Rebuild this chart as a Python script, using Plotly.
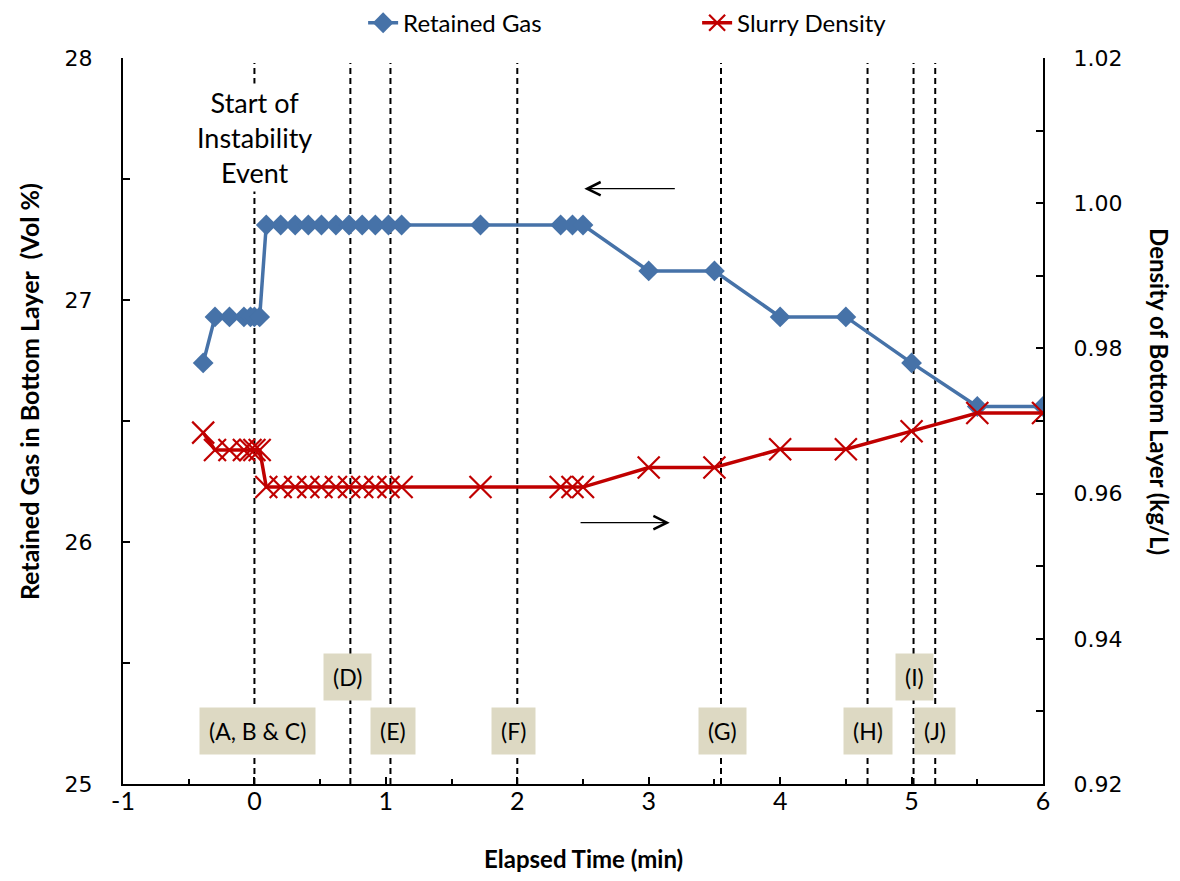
import plotly.graph_objects as go

# ---- data ----
time_min = [-0.39, -0.30, -0.19, -0.08, -0.03, 0.00, 0.04,
            0.09, 0.20, 0.31, 0.41, 0.51, 0.62, 0.72, 0.82, 0.92, 1.02, 1.12,
            1.72, 2.33, 2.42, 2.50, 3.00, 3.50, 4.00, 4.50, 5.00, 5.50, 6.00]
retained_gas = [26.74, 26.93, 26.93, 26.93, 26.93, 26.93, 26.93,
                27.31, 27.31, 27.31, 27.31, 27.31, 27.31, 27.31, 27.31, 27.31, 27.31, 27.31,
                27.31, 27.31, 27.31, 27.31, 27.12, 27.12, 26.93, 26.93, 26.74, 26.56, 26.56]
slurry_density = [0.9684, 0.9660, 0.9660, 0.9660, 0.9660, 0.9660, 0.9660,
                  0.9609, 0.9609, 0.9609, 0.9609, 0.9609, 0.9609, 0.9609, 0.9609, 0.9609, 0.9609, 0.9609,
                  0.9609, 0.9609, 0.9609, 0.9609, 0.9636, 0.9636, 0.9661, 0.9661, 0.9686, 0.9711, 0.9711]

event_times = [0.0, 0.73, 1.035, 2.0, 3.55, 4.665, 5.015, 5.18]
event_labels = ["(A, B & C)", "(D)", "(E)", "(F)", "(G)", "(H)", "(I)", "(J)"]
label_x = [0.023, 0.708, 1.058, 1.97, 3.56, 4.67, 5.02, 5.175]
label_y = [25.22, 25.444, 25.22, 25.22, 25.22, 25.22, 25.444, 25.22]

start_text = "Start of<br>Instability<br>Event"
start_pos = (0.0, 27.67)

# arrows: (tail_x, head_x, y on left axis)
arrow_left = (3.21, 2.51, 27.46)
arrow_right = (2.47, 3.16, 26.08)

x_ticks = [-1, 0, 1, 2, 3, 4, 5, 6]
y1_ticks = [25, 26, 27, 28]
y2_ticks = [0.92, 0.94, 0.96, 0.98, 1.00, 1.02]

BLUE = "#4672A8"
RED = "#C00000"
LABEL_FONT = "Lato, Carlito, Calibri, sans-serif"
NUM_FONT = "DejaVu Sans, Verdana, sans-serif"

fig = go.Figure()

fig.add_trace(go.Scatter(
    x=time_min, y=retained_gas, name="Retained Gas", mode="lines+markers",
    line=dict(color=BLUE, width=3.5),
    marker=dict(symbol="diamond", size=16, color=BLUE),
    yaxis="y",
))
fig.add_trace(go.Scatter(
    x=time_min, y=slurry_density, name="Slurry Density", mode="lines+markers",
    line=dict(color=RED, width=3.5),
    marker=dict(symbol="x-thin", size=22, color=RED, line=dict(color=RED, width=2.2)),
    yaxis="y2",
))

shapes = []
for t in event_times:
    shapes.append(dict(type="line", xref="x", yref="paper", x0=t, x1=t, y0=0, y1=0.993,
                       line=dict(color="black", width=2, dash="6px,4px"), layer="below"))

annotations = []
for lab, lx, ly in zip(event_labels, label_x, label_y):
    annotations.append(dict(x=lx, y=ly, xref="x", yref="y", text=lab, showarrow=False,
                            font=dict(family=LABEL_FONT, size=23, color="black"),
                            bgcolor="#DDD9C3", borderpad=9))

annotations.append(dict(x=start_pos[0], y=start_pos[1], xref="x", yref="y", text=start_text,
                        showarrow=False, bgcolor="white", borderpad=2,
                        font=dict(family=LABEL_FONT, size=27, color="black")))

for tail_x, head_x, ay in (arrow_left, arrow_right):
    annotations.append(dict(x=head_x, y=ay, ax=tail_x, ay=ay, xref="x", yref="y",
                            axref="x", ayref="y", text="", showarrow=True,
                            arrowhead=5, arrowsize=2.2, arrowwidth=1.2, arrowcolor="black"))

# axis titles
annotations.append(dict(x=-0.102, y=0.54, xref="paper", yref="paper", xanchor="center", yanchor="middle",
                        text="<b>Retained Gas in Bottom Layer  (Vol %)</b>", textangle=-90,
                        showarrow=False, font=dict(family=LABEL_FONT, size=25, color="black")))
annotations.append(dict(x=1.126, y=0.54, xref="paper", yref="paper", xanchor="center", yanchor="middle",
                        text="<b>Density of Bottom Layer (kg/L)</b>", textangle=90,
                        showarrow=False, font=dict(family=LABEL_FONT, size=24, color="black")))
annotations.append(dict(x=0.5, y=-0.103, xref="paper", yref="paper", xanchor="center", yanchor="middle",
                        text="<b>Elapsed Time (min)</b>",
                        showarrow=False, font=dict(family=LABEL_FONT, size=24, color="black")))

fig.update_layout(
    width=1180, height=881,
    margin=dict(l=115, r=145, t=50, b=105, autoexpand=False),
    paper_bgcolor="white", plot_bgcolor="white",
    showlegend=True,
    legend=dict(orientation="h", x=0.261, xanchor="left", y=1.079, yanchor="top",
                font=dict(family=LABEL_FONT, size=24, color="black"),
                entrywidth=289, entrywidthmode="pixels", bgcolor="rgba(0,0,0,0)"),
    xaxis=dict(range=[-1, 6], tickvals=x_ticks, ticktext=[str(v) for v in x_ticks],
               showline=True, linecolor="black", linewidth=2, showgrid=False, zeroline=False,
               ticks="inside", ticklen=7, tickwidth=1.5, tickcolor="black",
               minor=dict(dtick=0.5, ticks="inside", ticklen=5, tickwidth=1.5, tickcolor="black", showgrid=False),
               tickfont=dict(family=LABEL_FONT, size=25, color="black"), ticklabelstandoff=-6),
    yaxis=dict(range=[25, 28], tickvals=y1_ticks, ticktext=[str(v) for v in y1_ticks],
               showline=True, linecolor="black", linewidth=2, showgrid=False, zeroline=False,
               ticks="inside", ticklen=7, tickwidth=1.5, tickcolor="black",
               minor=dict(dtick=0.5, ticks="inside", ticklen=7, tickwidth=1.5, tickcolor="black", showgrid=False),
               tickfont=dict(family=NUM_FONT, size=22, color="black"),
               ticklabelstandoff=24),
    yaxis2=dict(range=[0.92, 1.02], overlaying="y", side="right",
                tickvals=y2_ticks, ticktext=[f"{v:.2f}" for v in y2_ticks],
                showline=True, linecolor="black", linewidth=2, showgrid=False, zeroline=False,
                ticks="inside", ticklen=7, tickwidth=1.5, tickcolor="black",
                minor=dict(dtick=0.01, ticks="inside", ticklen=7, tickwidth=1.5, tickcolor="black", showgrid=False),
                tickfont=dict(family=NUM_FONT, size=22, color="black"),
                ticklabelstandoff=24),
    shapes=shapes,
    annotations=annotations,
)

fig.write_html("out.html")
